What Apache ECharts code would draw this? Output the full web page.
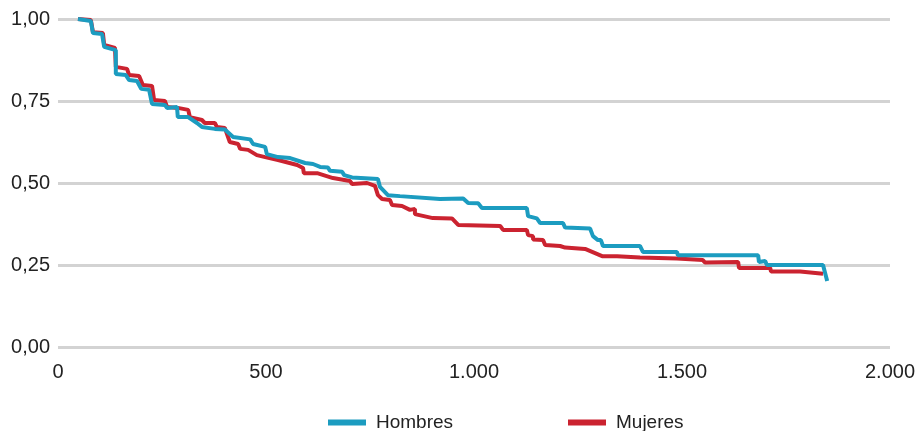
<!DOCTYPE html>
<html>
<head>
<meta charset="utf-8">
<script src="https://cdn.jsdelivr.net/npm/echarts@6/dist/echarts.min.js"></script>
<style>
html,body{margin:0;padding:0;background:#fff;}
#chart{width:919px;height:431px;}
</style>
</head>
<body>
<div id="chart"></div>
<script>
var seriesNames = ['Hombres', 'Mujeres'];
var xTicks = [0, 500, 1000, 1500, 2000];
var yTicks = [0, 0.25, 0.5, 0.75, 1];

var hombres = [[48,1.0],[79,0.994],[84,0.957],[106,0.954],[111,0.915],[139,0.905],[139,0.832],[163,0.829],[171,0.814],[190,0.811],[200,0.787],[219,0.784],[226,0.741],[257,0.738],[262,0.729],[286,0.732],[288,0.701],[313,0.701],[334,0.683],[346,0.671],[377,0.665],[401,0.663],[421,0.640],[462,0.633],[469,0.619],[498,0.610],[502,0.588],[529,0.579],[558,0.576],[594,0.561],[613,0.558],[630,0.549],[649,0.547],[654,0.537],[683,0.534],[688,0.524],[707,0.517],[769,0.512],[774,0.488],[793,0.463],[822,0.460],[918,0.451],[974,0.453],[986,0.439],[1010,0.438],[1019,0.424],[1127,0.424],[1130,0.399],[1151,0.392],[1159,0.378],[1214,0.378],[1219,0.364],[1279,0.361],[1286,0.338],[1298,0.326],[1305,0.326],[1310,0.308],[1399,0.308],[1406,0.290],[1488,0.290],[1490,0.280],[1683,0.280],[1685,0.259],[1700,0.262],[1704,0.250],[1839,0.250],[1849,0.201]];

var mujeres = [[48,1.0],[79,0.997],[84,0.960],[108,0.957],[111,0.921],[137,0.912],[139,0.854],[166,0.848],[171,0.829],[195,0.826],[204,0.799],[226,0.796],[231,0.753],[257,0.750],[262,0.732],[288,0.729],[313,0.723],[317,0.701],[346,0.692],[353,0.683],[377,0.683],[382,0.671],[401,0.668],[413,0.625],[433,0.619],[438,0.604],[457,0.601],[478,0.585],[498,0.579],[529,0.570],[575,0.555],[589,0.546],[591,0.530],[623,0.530],[661,0.515],[702,0.506],[707,0.497],[743,0.500],[762,0.491],[769,0.463],[779,0.451],[798,0.448],[803,0.433],[827,0.430],[846,0.418],[858,0.421],[858,0.405],[901,0.393],[947,0.392],[962,0.372],[1063,0.369],[1070,0.357],[1127,0.357],[1130,0.341],[1142,0.338],[1142,0.328],[1166,0.326],[1171,0.311],[1207,0.308],[1219,0.303],[1267,0.299],[1308,0.277],[1344,0.277],[1399,0.273],[1488,0.270],[1550,0.265],[1555,0.258],[1635,0.259],[1637,0.241],[1712,0.241],[1714,0.230],[1784,0.230],[1839,0.223]];

var colors = {Hombres: '#1c9cc0', Mujeres: '#cb2330'};
var font = 'Liberation Sans, Arial, sans-serif';
var txt = '#222';

var chart = echarts.init(document.getElementById('chart'));
chart.setOption({
  animation: false,
  backgroundColor: '#fff',
  grid: {left: 58, right: 29, top: 19, bottom: 84, containLabel: false},
  legend: [
    {data: [seriesNames[0]], left: 328, top: 413, padding: 0, itemWidth: 38, itemHeight: 6,
     icon: 'rect', textStyle: {fontFamily: font, fontSize: 19, color: txt, padding: [0,0,0,5]}},
    {data: [seriesNames[1]], left: 568, top: 413, padding: 0, itemWidth: 38, itemHeight: 6,
     icon: 'rect', textStyle: {fontFamily: font, fontSize: 19, color: txt, padding: [0,0,0,5]}}
  ],
  xAxis: {
    type: 'value', min: xTicks[0], max: xTicks[xTicks.length-1], interval: 500,
    axisLine: {show: false}, axisTick: {show: false}, splitLine: {show: false},
    axisLabel: {fontFamily: font, fontSize: 20, color: txt, margin: 15,
      formatter: function (v) { return v.toString().replace(/\B(?=(\d{3})+(?!\d))/g, '.'); }}
  },
  yAxis: {
    type: 'value', min: yTicks[0], max: yTicks[yTicks.length-1], interval: 0.25,
    axisLine: {show: false}, axisTick: {show: false},
    splitLine: {lineStyle: {color: '#d3d3d3', width: 3}},
    axisLabel: {fontFamily: font, fontSize: 20, color: txt, margin: 8,
      formatter: function (v) { return v.toFixed(2).replace('.', ','); }}
  },
  series: [
    {name: 'Mujeres', type: 'line', data: mujeres, showSymbol: false, symbol: 'none',
     lineStyle: {color: colors.Mujeres, width: 4}, itemStyle: {color: colors.Mujeres}, z: 2},
    {name: 'Hombres', type: 'line', data: hombres, showSymbol: false, symbol: 'none',
     lineStyle: {color: colors.Hombres, width: 4}, itemStyle: {color: colors.Hombres}, z: 3}
  ]
});
</script>
</body>
</html>
